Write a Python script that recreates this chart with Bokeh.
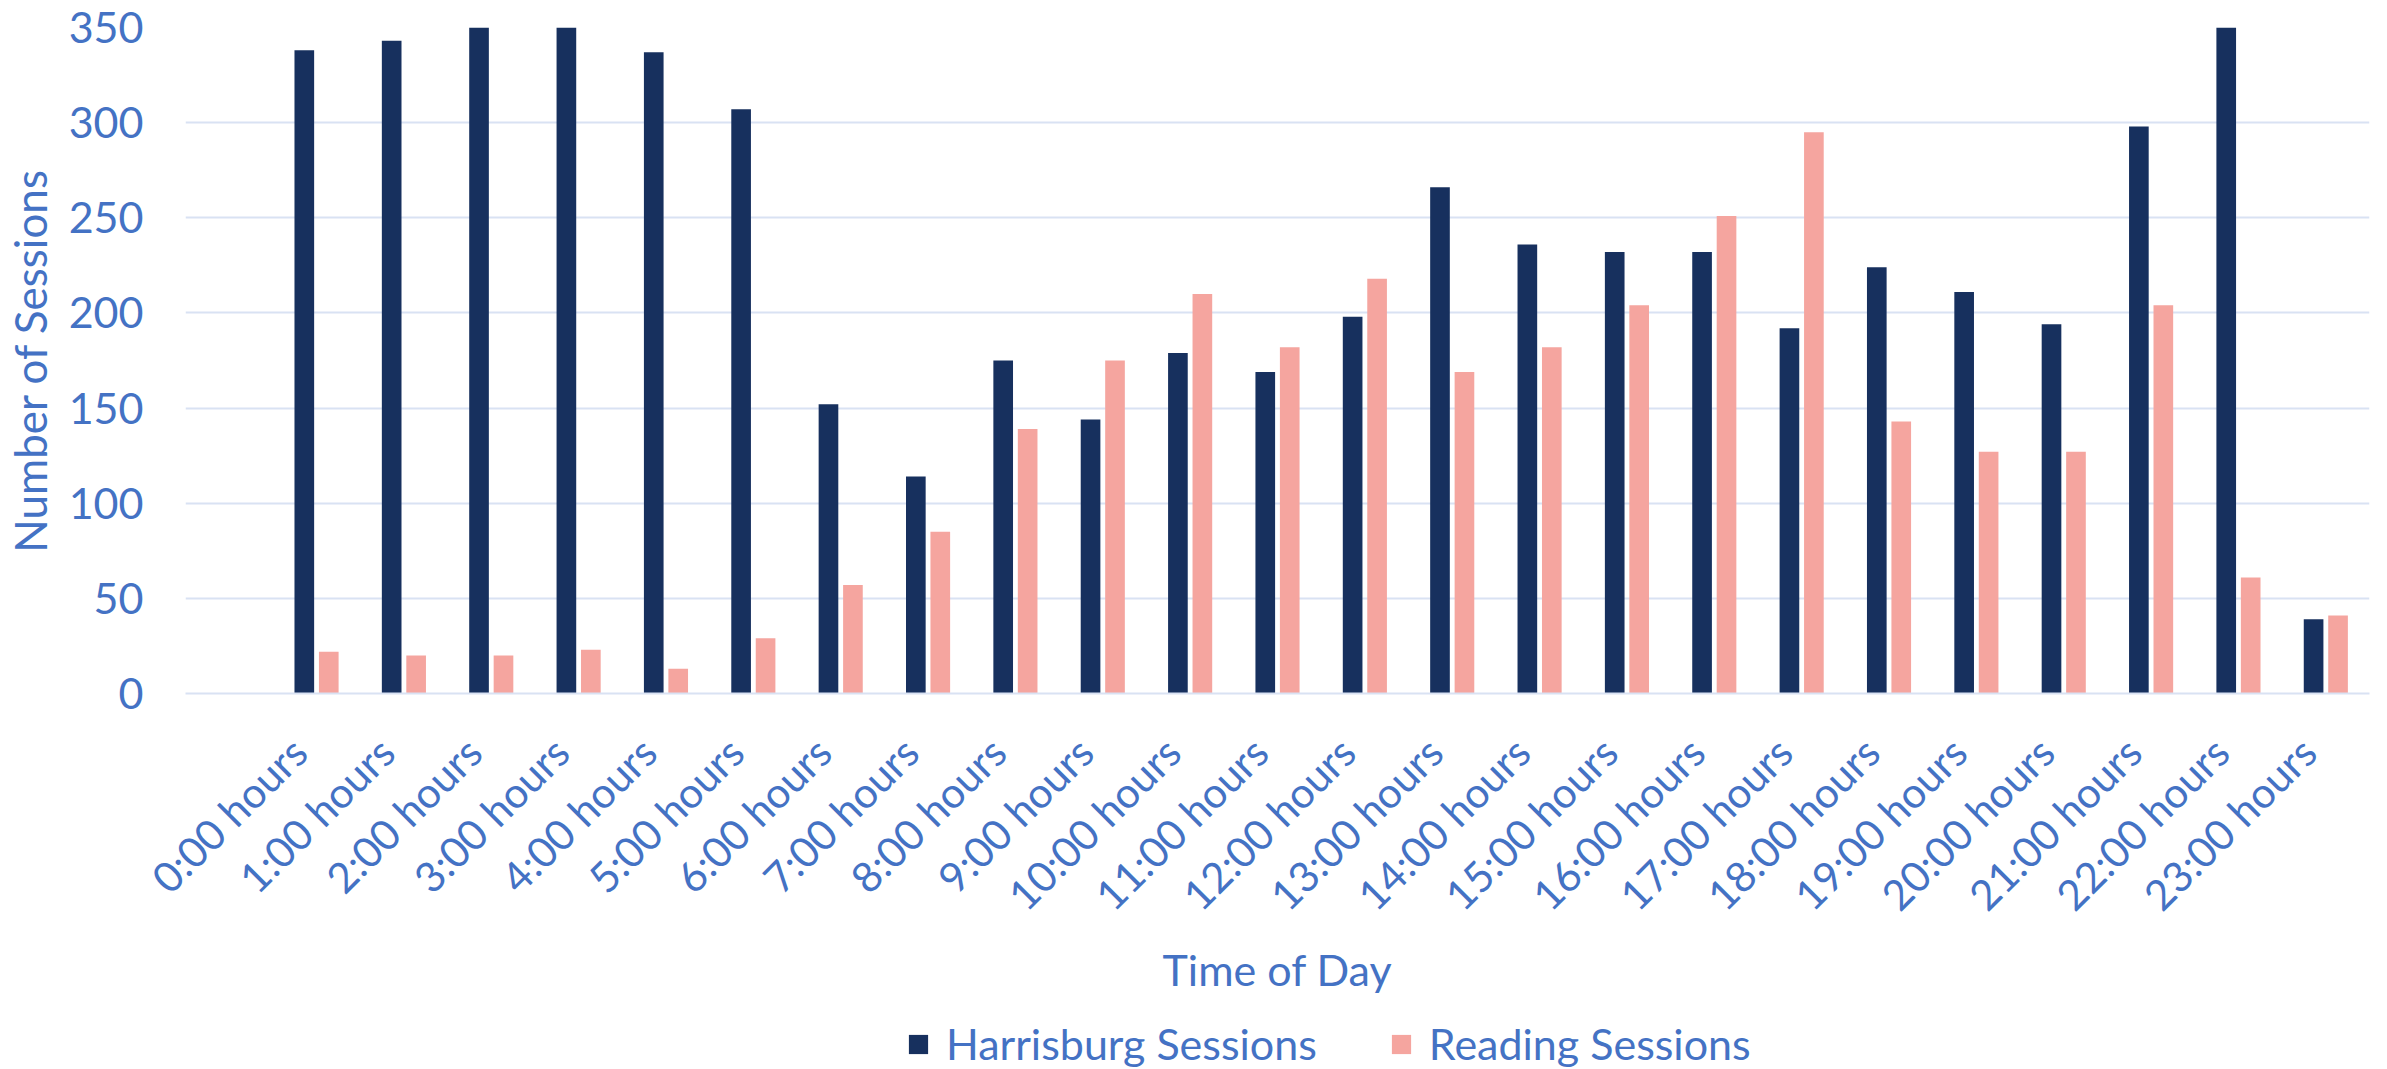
import math
from bokeh.plotting import figure
from bokeh.layouts import column
from bokeh.models import ColumnDataSource, Range1d, FixedTicker, Legend, LegendItem
from bokeh.transform import dodge
from bokeh.embed import file_html
from bokeh.resources import INLINE

hour_labels = ["0:00 hours", "1:00 hours", "2:00 hours", "3:00 hours", "4:00 hours",
               "5:00 hours", "6:00 hours", "7:00 hours", "8:00 hours", "9:00 hours",
               "10:00 hours", "11:00 hours", "12:00 hours", "13:00 hours", "14:00 hours",
               "15:00 hours", "16:00 hours", "17:00 hours", "18:00 hours", "19:00 hours",
               "20:00 hours", "21:00 hours", "22:00 hours", "23:00 hours"]
harrisburg = [338, 343, 350, 351, 337, 307, 152, 114, 175, 144, 179, 169,
              198, 266, 236, 232, 232, 192, 224, 211, 194, 298, 351, 39]
reading = [22, 20, 20, 23, 13, 29, 57, 85, 139, 175, 210, 182,
           218, 169, 182, 204, 251, 295, 143, 127, 127, 204, 61, 41]
y_ticks = [0, 50, 100, 150, 200, 250, 300, 350]
series_names = ["Harrisburg Sessions", "Reading Sessions"]

DARK = "#17305E"
PINK = "#F5A59F"
TEXT = "#4472C4"
GRID = "#D9E2F3"
FONT = "Lato"

# tick labels sit slightly left of the bar pair centre, as in the original
LABEL_SHIFT = 0.2

idx = list(range(len(hour_labels)))
src = ColumnDataSource(dict(idx=idx, hbg=harrisburg, rdg=reading))

p = figure(width=2371, height=1010,
           x_range=Range1d(-1.5 + LABEL_SHIFT, len(hour_labels) - 0.5 + LABEL_SHIFT),
           y_range=Range1d(0, 350),
           output_backend="svg", toolbar_location=None,
           min_border_left=177, min_border_top=27, min_border_right=2, min_border_bottom=317)
p.outline_line_color = None
p.background_fill_color = "white"
p.border_fill_color = "white"

p.vbar(x=dodge("idx", -0.14 + LABEL_SHIFT, range=p.x_range), top="hbg", width=0.225,
       source=src, fill_color=DARK, line_color=None)
p.vbar(x=dodge("idx", 0.14 + LABEL_SHIFT, range=p.x_range), top="rdg", width=0.225,
       source=src, fill_color=PINK, line_color=None)

# x axis
xa = p.xaxis[0]
xa.ticker = FixedTicker(ticks=idx)
xa.major_label_overrides = {i: lab for i, lab in zip(idx, hour_labels)}
xa.major_label_orientation = math.pi / 4
xa.major_label_text_font = FONT
xa.major_label_text_font_size = "42px"
xa.major_label_text_color = TEXT
xa.major_label_standoff = 45
xa.major_tick_line_color = None
xa.minor_tick_line_color = None
xa.axis_line_color = GRID
xa.axis_line_width = 2
xa.axis_label = "Time of Day"
xa.axis_label_text_font = FONT
xa.axis_label_text_font_size = "43px"
xa.axis_label_text_font_style = "normal"
xa.axis_label_text_color = TEXT
xa.axis_label_standoff = 4

# y axis
ya = p.yaxis[0]
ya.ticker = FixedTicker(ticks=y_ticks)
ya.major_label_text_font = FONT
ya.major_label_text_font_size = "43px"
ya.major_label_text_color = TEXT
ya.major_label_standoff = 36
ya.major_tick_line_color = None
ya.minor_tick_line_color = None
ya.axis_line_color = None
ya.axis_label = "Number of Sessions"
ya.axis_label_text_font = FONT
ya.axis_label_text_font_size = "44px"
ya.axis_label_text_font_style = "normal"
ya.axis_label_text_color = TEXT
ya.axis_label_standoff = 10

p.xgrid.visible = False
p.ygrid.ticker = FixedTicker(ticks=y_ticks)
p.ygrid.grid_line_color = GRID
p.ygrid.grid_line_width = 2

# legend strip below the chart (its bars lie outside its view; only the legend shows)
pl = figure(width=2371, height=59, x_range=Range1d(1000, 1001), y_range=Range1d(1000, 1001),
            x_axis_type=None, y_axis_type=None, output_backend="svg", toolbar_location=None,
            min_border=0)
pl.outline_line_color = None
pl.background_fill_color = "white"
pl.border_fill_color = "white"
l1 = pl.vbar(x="idx", top="hbg", width=0.225, source=src, fill_color=DARK, line_color=None)
l2 = pl.vbar(x="idx", top="rdg", width=0.225, source=src, fill_color=PINK, line_color=None)

legend = Legend(items=[LegendItem(label=series_names[0], renderers=[l1]),
                       LegendItem(label=series_names[1], renderers=[l2])],
                orientation="horizontal", location=(721, 0))
legend.label_text_font = FONT
legend.label_text_font_size = "43px"
legend.label_text_color = TEXT
legend.glyph_width = 24
legend.glyph_height = 24
legend.label_standoff = 16
legend.spacing = 72
legend.padding = 0
legend.margin = 0
legend.border_line_color = None
legend.background_fill_alpha = 0
pl.add_layout(legend, "center")

layout = column(p, pl, spacing=0)
open("out.html", "w").write(file_html(layout, INLINE))
